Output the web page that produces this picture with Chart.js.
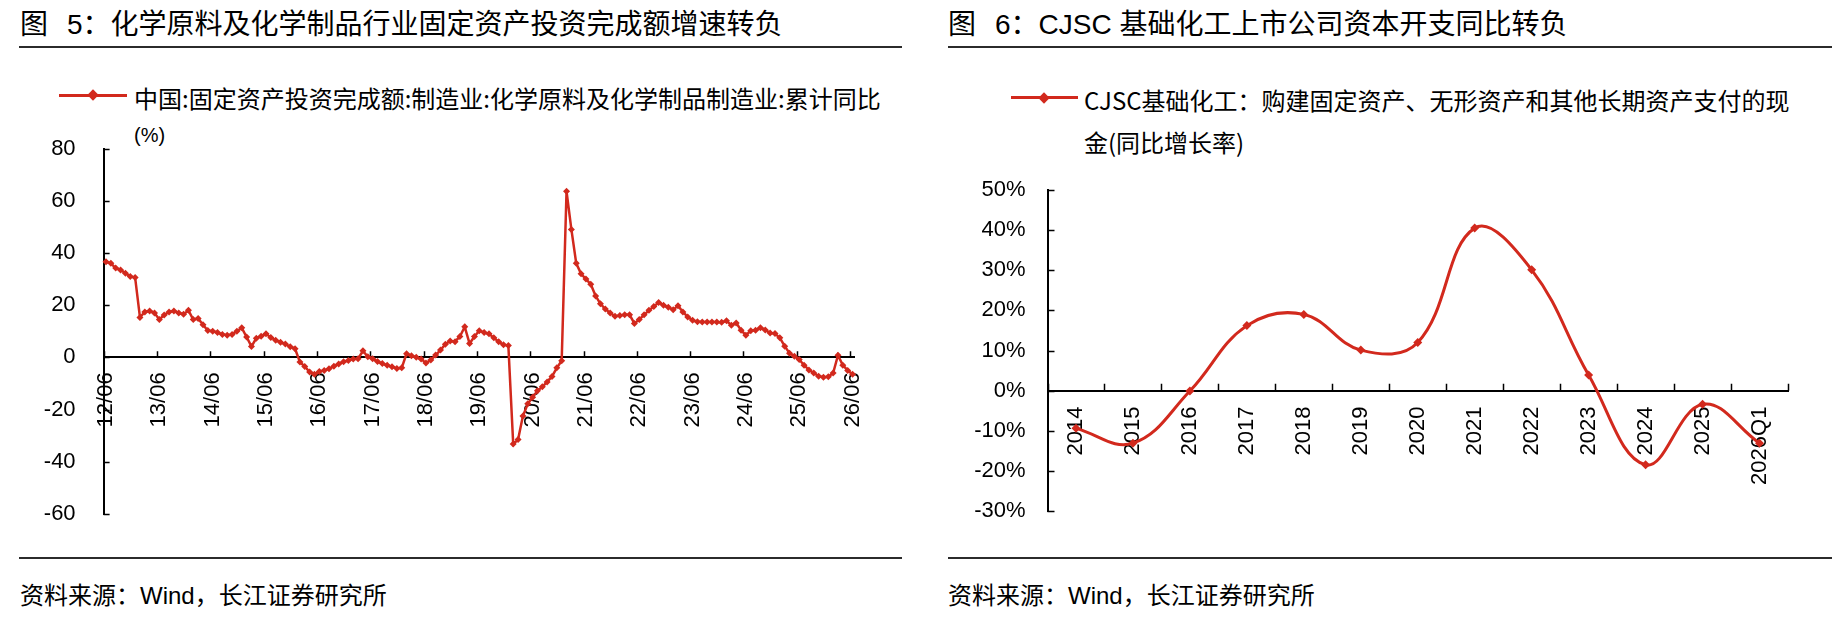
<!DOCTYPE html>
<html>
<head>
<meta charset="utf-8">
<script src="https://cdn.jsdelivr.net/npm/chart.js@4.4.1/dist/chart.umd.min.js"></script>
<style>
  html, body { margin: 0; padding: 0; background: #fff; }
  body {
    width: 1838px; height: 624px; position: relative; overflow: hidden;
    font-family: "Liberation Sans", "Noto Sans CJK SC", sans-serif; color: #000;
  }
  .title { position: absolute; top: 7px; font-size: 28px; line-height: 36px; white-space: nowrap; }
  .title .gap { display: inline-block; width: 19px; }
  .rule { position: absolute; height: 2px; background: #2b2b2b; }
  .legend-line { position: absolute; height: 3px; background: #d2291d; }
  .legend-dot { position: absolute; width: 8px; height: 8px; background: #d2291d; transform: rotate(45deg); }
  .legend-text { position: absolute; font-family: "Noto Sans CJK SC", sans-serif; font-size: 24px; white-space: nowrap; }
  .unit { position: absolute; font-size: 20px; line-height: 24px; }
  .source { position: absolute; top: 580px; font-size: 24px; line-height: 32px; white-space: nowrap; }
  canvas { position: absolute; }
</style>
</head>
<body>

<div class="title" style="left:20px">图<span class="gap"></span>5：化学原料及化学制品行业固定资产投资完成额增速转负</div>
<div class="rule" style="left:19px; width:883px; top:46px"></div>
<div class="legend-line" style="left:59px; width:68px; top:93.5px"></div>
<div class="legend-dot" style="left:89px; top:91px"></div>
<div class="legend-text" style="left:134px; top:82px; line-height:32px">中国:固定资产投资完成额:制造业:化学原料及化学制品制造业:累计同比</div>
<div class="unit" style="left:134px; top:123px">(%)</div>
<canvas id="fiChart" width="880" height="410" style="left:0; top:120px"></canvas>
<div class="rule" style="left:19px; width:883px; top:557px"></div>
<div class="source" style="left:20px">资料来源：Wind，长江证券研究所</div>

<div class="title" style="left:948px">图<span class="gap"></span>6：CJSC 基础化工上市公司资本开支同比转负</div>
<div class="rule" style="left:948px; width:884px; top:46px"></div>
<div class="legend-line" style="left:1011px; width:67px; top:96px"></div>
<div class="legend-dot" style="left:1040px; top:93.5px"></div>
<div class="legend-text" style="left:1084px; top:79px; line-height:41.5px">CJSC基础化工：购建固定资产、无形资产和其他长期资产支付的现<br>金(同比增长率)</div>
<canvas id="capexChart" width="900" height="370" style="left:920px; top:160px"></canvas>
<div class="rule" style="left:948px; width:884px; top:557px"></div>
<div class="source" style="left:948px">资料来源：Wind，长江证券研究所</div>

<script>
// ---- left chart: monthly cumulative YoY (%), Jan-Feb reported at Feb ----
const fiYears = ['12', '13', '14', '15', '16', '17', '18', '19', '20', '21', '22', '23', '24', '25', '26'];
const fiMonthsFirstYear = ['06', '07', '08', '09', '10', '11', '12'];
const fiMonthsFullYear = ['02', '03', '04', '05', '06', '07', '08', '09', '10', '11', '12'];
const fiMonthsLastYear = ['02', '03', '04', '05', '06'];
const fiTickLabels = ['12/06', '13/06', '14/06', '15/06', '16/06', '17/06', '18/06', '19/06',
                      '20/06', '21/06', '22/06', '23/06', '24/06', '25/06', '26/06'];
const fiValues = [
  36.6, 36.0, 34.2, 33.5, 32.2, 31.0, 30.6,                              // 2012
  15.3, 17.4, 17.8, 17.0, 14.5, 16.2, 17.4, 17.8, 17.0, 16.5, 18.0,       // 2013
  14.5, 14.9, 12.5, 10.3, 10.0, 9.5, 8.8, 8.5, 8.8, 10.0, 11.3,           // 2014
  7.8, 4.2, 7.3, 8.1, 9.0, 7.6, 6.6, 5.8, 5.1, 4.1, 3.3,                  // 2015
  -1.8, -3.5, -5.6, -6.5, -5.4, -5.0, -4.4, -3.4, -2.5, -1.7, -1.2,       // 2016
  -0.6, -0.5, 2.5, 0.2, -0.5, -1.6, -2.4, -3.0, -3.6, -4.3, -4.0,         // 2017
  1.4, 0.6, 0.0, -0.6, -2.2, -1.0, 0.9, 2.8, 5.0, 6.3, 6.0,               // 2018
  8.0, 11.7, 5.3, 8.0, 10.2, 9.5, 9.0, 7.5, 6.0, 4.8, 4.5,                // 2019
  -33.2, -31.5, -22.5, -17.8, -15.3, -12.8, -11.3, -9.4, -7.3, -4.0, -1.3, // 2020
  63.6, 49.0, 36.0, 32.0, 30.0, 28.0, 23.5, 20.5, 18.5, 17.0, 15.7,       // 2021
  16.0, 16.3, 16.3, 13.0, 14.5, 16.3, 18.0, 19.5, 21.0, 20.0, 19.2,       // 2022
  18.2, 19.8, 17.4, 15.5, 14.2, 13.6, 13.5, 13.5, 13.5, 13.5, 13.4,       // 2023
  14.0, 12.3, 13.2, 10.4, 8.5, 10.2, 10.4, 11.3, 10.5, 9.3, 9.1,          // 2024
  7.5, 4.3, 1.6, 0.4, -0.8, -3.0, -4.8, -6.0, -7.2, -7.6, -7.4,           // 2025
  -6.0, 0.8, -3.0, -5.0, -6.5                                             // 2026
];

// ---- right chart: yearly capex growth (%) ----
const capexCategories = ['2014', '2015', '2016', '2017', '2018', '2019', '2020',
                         '2021', '2022', '2023', '2024', '2025', '2026Q1'];
const capexValues = [-9.4, -13.1, -0.1, 16.2, 19.0, 10.1, 12.0, 40.5, 30.1, 3.9, -18.5, -3.4, -13.1];

const RED = '#d2291d';
const TICK_FONT = { family: '"Liberation Sans", Arial, sans-serif', size: 22 };

function buildMonthLabels() {
  const labels = [];
  fiYears.forEach((yy, i) => {
    let months = fiMonthsFullYear;
    if (i === 0) months = fiMonthsFirstYear;
    if (i === fiYears.length - 1) months = fiMonthsLastYear;
    months.forEach(mm => labels.push(yy + '/' + mm));
  });
  return labels;
}
const fiLabels = buildMonthLabels();

// tick marks drawn inside the plot area, like the original
const innerTicks = {
  id: 'innerTicks',
  beforeDatasetsDraw(chart, args, opts) {
    const { ctx, chartArea } = chart;
    const x = chart.scales.x, y = chart.scales.y;
    const zero = y.getPixelForValue(0);
    const half = (x.getPixelForValue(1) - x.getPixelForValue(0)) / 2;
    ctx.save();
    ctx.strokeStyle = '#000';
    ctx.lineWidth = 1.5;
    ctx.beginPath();
    y.ticks.forEach(t => {
      const py = Math.round(y.getPixelForValue(t.value)) + 0.5;
      ctx.moveTo(chartArea.left, py);
      ctx.lineTo(chartArea.left + opts.len, py);
    });
    for (let i = 0; i <= opts.last; i += opts.every) {
      const px = Math.round(x.getPixelForValue(i) - half) + 0.5;
      ctx.moveTo(px, zero);
      ctx.lineTo(px, zero - opts.len);
    }
    ctx.stroke();
    ctx.restore();
  }
};

function makeChart(id, cfg) {
  return new Chart(document.getElementById(id), {
    type: 'line',
    data: {
      labels: cfg.labels,
      datasets: [{
        data: cfg.values,
        borderColor: RED,
        backgroundColor: RED,
        borderWidth: cfg.lineWidth,
        pointStyle: 'rectRot',
        pointRadius: cfg.pointRadius,
        pointBorderWidth: 0,
        tension: cfg.tension
      }]
    },
    options: {
      responsive: false,
      animation: false,
      layout: { padding: cfg.padding },
      plugins: {
        legend: { display: false },
        tooltip: { enabled: false },
        innerTicks: cfg.ticks
      },
      scales: {
        x: {
          type: 'category',
          position: { y: 0 },
          offset: true,
          // tick marks themselves come from the innerTicks plugin;
          // tickLength only sets the gap between axis and labels
          grid: { display: false, drawTicks: true, tickLength: cfg.xGap },
          border: { display: true, color: '#000', width: 2 },
          ticks: {
            autoSkip: false,
            maxRotation: 90,
            minRotation: 90,
            padding: 1,
            color: '#000',
            font: TICK_FONT,
            callback: cfg.xLabel
          }
        },
        y: {
          min: cfg.yMin,
          max: cfg.yMax,
          grid: { display: false, drawTicks: true, tickLength: cfg.yGap },
          border: { display: true, color: '#000', width: 2 },
          afterFit(scale) { scale.width = cfg.yWidth; },
          ticks: {
            stepSize: cfg.yStep,
            padding: 2,
            color: '#000',
            font: TICK_FONT,
            callback: cfg.yLabel
          }
        }
      }
    },
    plugins: [innerTicks]
  });
}

makeChart('fiChart', {
  labels: fiLabels,
  values: fiValues,
  lineWidth: 2.5,
  pointRadius: 3.5,
  tension: 0,
  padding: { top: 28.5, right: 20, bottom: 16, left: 0 },
  ticks: { len: 6, every: 11, last: fiLabels.length - 1 },
  yMin: -60, yMax: 80, yStep: 20, yWidth: 103.6, yGap: 26, xGap: 14,
  yLabel: v => v,
  xLabel: (v, i) => fiTickLabels.includes(fiLabels[i]) ? fiLabels[i] : ''
});

makeChart('capexChart', {
  labels: capexCategories,
  values: capexValues,
  lineWidth: 3,
  pointRadius: 4.5,
  tension: 0.4,
  padding: { top: 30, right: 32, bottom: 19, left: 0 },
  ticks: { len: 7, every: 1, last: capexCategories.length },
  yMin: -30, yMax: 50, yStep: 10, yWidth: 127.5, yGap: 20, xGap: 15,
  yLabel: v => v + '%',
  xLabel: (v, i) => capexCategories[i]
});
</script>
</body>
</html>
